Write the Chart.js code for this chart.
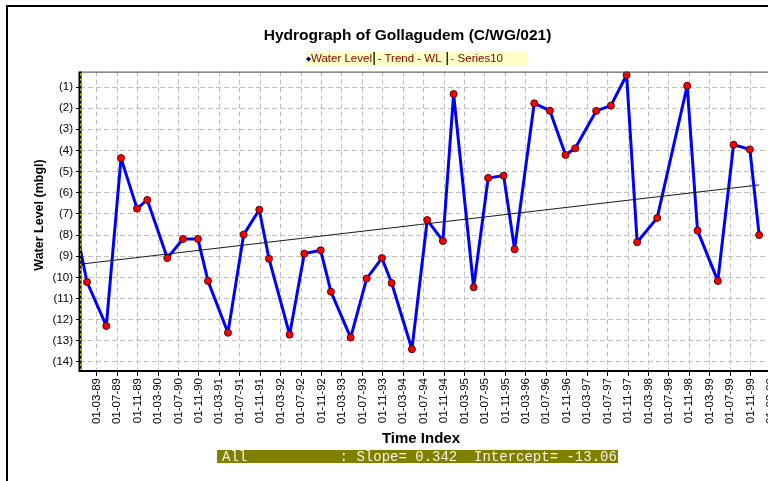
<!DOCTYPE html>
<html>
<head>
<meta charset="utf-8">
<script src="https://cdn.jsdelivr.net/npm/chart.js@4.4.1/dist/chart.umd.min.js"></script>
<style>
  html, body { margin: 0; padding: 0; background: #fff; overflow: hidden; width: 768px; height: 481px; }
  canvas { display: block; }
</style>
</head>
<body>
<canvas id="c" width="836" height="481" style="width:836px;height:481px"></canvas>
<script>
// ---- data (time index in months since Jan 1989; water level in m below ground, negative) ----
const monthIdx = [-1.27, 0.10, 3.88, 6.76, 9.89, 11.90, 15.82, 18.89, 21.82, 23.78, 27.69, 30.77, 33.82, 35.72, 39.77,
  42.63, 45.84, 47.85, 51.71, 54.84, 57.83, 59.73, 63.70, 66.70, 69.77, 71.86, 75.78, 78.63, 81.65, 83.80,
  87.64, 90.71, 93.78, 95.66, 99.77, 102.65, 105.72, 107.79, 111.71, 117.58, 119.61, 123.58, 126.66, 129.85, 131.67];
const waterLevel = [-8.60, -10.22, -12.30, -4.36, -6.75, -6.34, -9.09, -8.19, -8.19, -10.17, -12.62, -7.98, -6.80, -9.12, -12.71,
  -8.88, -8.72, -10.68, -12.85, -10.06, -9.09, -10.27, -13.40, -7.29, -8.28, -1.33, -10.47, -5.30, -5.19, -8.67,
  -1.77, -2.12, -4.21, -3.90, -2.13, -1.88, -0.43, -8.34, -7.19, -0.94, -7.79, -10.17, -3.73, -3.95, -8.00];
const trendX = [-1.27, 131.67];
const trendLevel = [-9.38, -5.63];
const xTickMonths = [2, 6, 10, 14, 18, 22, 26, 30, 34, 38, 42, 46, 50, 54, 58, 62, 66, 70, 74, 78, 82, 86, 90, 94,
  98, 102, 106, 110, 114, 118, 122, 126, 130, 134];
const xTickLabels = ['01-03-89','01-07-89','01-11-89','01-03-90','01-07-90','01-11-90','01-03-91','01-07-91','01-11-91',
  '01-03-92','01-07-92','01-11-92','01-03-93','01-07-93','01-11-93','01-03-94','01-07-94','01-11-94','01-03-95',
  '01-07-95','01-11-95','01-03-96','01-07-96','01-11-96','01-03-97','01-07-97','01-11-97','01-03-98','01-07-98',
  '01-11-98','01-03-99','01-07-99','01-11-99','01-03-00'];
const yTickValues = [-1, -2, -3, -4, -5, -6, -7, -8, -9, -10, -11, -12, -13, -14];
const titleText = 'Hydrograph of Gollagudem (C/WG/021)';
const xTitle = 'Time Index';
const yTitle = 'Water Level (mbgl)';
const legendItems = ['Water Level', '- Trend - WL', 'Series10'];
const statLabel = 'All';
const slope = 0.342;
const intercept = -13.06;

const FONT = '"Liberation Sans", Arial, sans-serif';

const decor = {
  id: 'decor',
  afterDatasetsDraw(chart) {
    const { ctx, chartArea: a } = chart;
    ctx.save();
    // top border of plot
    ctx.strokeStyle = '#404040'; ctx.lineWidth = 1;
    ctx.beginPath(); ctx.moveTo(a.left, a.top + 0.5); ctx.lineTo(a.right, a.top + 0.5); ctx.stroke();
    // x axis line
    ctx.strokeStyle = '#000'; ctx.lineWidth = 2;
    ctx.beginPath(); ctx.moveTo(a.left - 1, a.bottom); ctx.lineTo(a.right, a.bottom); ctx.stroke();
    // y axis line (black with yellow dots)
    ctx.lineWidth = 3;
    ctx.beginPath(); ctx.moveTo(a.left, a.top); ctx.lineTo(a.left, a.bottom + 1); ctx.stroke();
    ctx.strokeStyle = '#d8d800'; ctx.lineWidth = 1; ctx.setLineDash([2, 3]);
    ctx.beginPath(); ctx.moveTo(a.left + 0.5, a.top + 2); ctx.lineTo(a.left + 0.5, a.bottom - 1); ctx.stroke();
    ctx.restore();
  },
  afterDraw(chart) {
    const { ctx } = chart;
    const cx = chart.width / 2;
    ctx.save();
    // outer frame
    ctx.strokeStyle = '#000'; ctx.lineWidth = 2;
    ctx.beginPath(); ctx.moveTo(7, chart.height); ctx.lineTo(7, 6); ctx.lineTo(chart.width, 6); ctx.stroke();

    // legend box
    const lx = cx - 113, ly = 51, lh = 15, lw = 223;
    ctx.fillStyle = '#FFFFC8'; ctx.fillRect(lx, ly, lw, lh);
    ctx.font = '11.5px ' + FONT; ctx.textBaseline = 'middle'; ctx.textAlign = 'left';
    const my = ly + lh / 2 + 0.5;
    // diamond marker
    ctx.fillStyle = '#000060';
    ctx.beginPath(); ctx.moveTo(lx + 3.5, my - 2.5); ctx.lineTo(lx + 6, my); ctx.lineTo(lx + 3.5, my + 2.5); ctx.lineTo(lx + 1, my); ctx.closePath(); ctx.fill();
    ctx.fillStyle = '#800000';
    ctx.fillText(legendItems[0], lx + 6, my);
    const w0 = ctx.measureText(legendItems[0]).width;
    const s1 = lx + 6 + w0 + 1.5;
    ctx.fillStyle = '#303000'; ctx.fillRect(s1, ly + 1, 1.5, lh - 2);
    ctx.fillStyle = '#800000';
    ctx.fillText(legendItems[1], s1 + 4, my);
    const w1 = ctx.measureText(legendItems[1]).width;
    const s2 = s1 + 4 + w1 + 5;
    ctx.fillStyle = '#303000'; ctx.fillRect(s2, ly + 1, 1.5, lh - 2);
    ctx.fillStyle = '#a040c0';
    ctx.fillText('-', s2 + 4, my);
    ctx.fillStyle = '#800000';
    ctx.fillText(' ' + legendItems[2], s2 + 4 + ctx.measureText('-').width, my);

    // axis titles
    ctx.fillStyle = '#000';
    ctx.font = 'bold 15px ' + FONT; ctx.textAlign = 'center'; ctx.textBaseline = 'middle';
    ctx.fillText(xTitle, 421, 439);
    ctx.save();
    ctx.translate(40, 215); ctx.rotate(-Math.PI / 2);
    ctx.font = 'bold 12.5px ' + FONT;
    ctx.fillText(yTitle, 0, 0);
    ctx.restore();

    // statistics bar
    ctx.fillStyle = '#808000'; ctx.fillRect(217, 450, 401, 13);
    ctx.fillStyle = '#f4f4e8';
    ctx.font = '14px "Liberation Mono", "Courier New", monospace';
    ctx.textAlign = 'left'; ctx.textBaseline = 'alphabetic';
    const stat = statLabel.padEnd(14, ' ') + ': Slope= ' + slope.toFixed(3) + '  Intercept= ' + intercept.toFixed(2);
    ctx.fillText(stat, 222, 460.5);
    ctx.restore();
  }
};

new Chart(document.getElementById('c'), {
  type: 'line',
  data: {
    datasets: [
      {
        label: 'Trend - WL',
        data: trendX.map((x, i) => ({ x, y: trendLevel[i] })),
        borderColor: '#1a1a1a',
        borderWidth: 1,
        pointRadius: 0,
        tension: 0,
        order: 0
      },
      {
        label: 'Water Level',
        data: monthIdx.map((x, i) => ({ x, y: waterLevel[i] })),
        borderColor: '#0000FF',
        borderWidth: 3,
        borderJoinStyle: 'round',
        borderCapStyle: 'round',
        pointRadius: ctx => ctx.dataIndex === 0 ? 0 : 3.5,
        pointBackgroundColor: '#FF0000',
        pointBorderColor: '#500000',
        pointBorderWidth: 1,
        tension: 0,
        order: 1
      }
    ]
  },
  plugins: [decor],
  options: {
    responsive: false,
    devicePixelRatio: 1,
    animation: false,
    events: [],
    layout: { padding: { left: 0, right: 21, top: 0, bottom: 0 } },
    plugins: {
      legend: { display: false },
      tooltip: { enabled: false },
      title: {
        display: true,
        text: titleText,
        color: '#000',
        font: { family: FONT, size: 15.5, weight: 'bold' },
        padding: { top: 26.7, bottom: 26.3 }
      }
    },
    scales: {
      x: {
        type: 'linear',
        min: -1.27,
        max: 142.6,
        afterFit: s => { s.height = 110; },
        afterBuildTicks: s => { s.ticks = xTickMonths.map(v => ({ value: v })); },
        grid: {
          color: '#c0c0c0', lineWidth: 1, tickColor: '#000', tickLength: 5, tickBorderDash: [], drawTicks: true
        },
        border: { display: false, dash: [5, 3] },
        ticks: {
          autoSkip: false, maxRotation: 90, minRotation: 90, padding: 2,
          color: '#000', font: { family: FONT, size: 11.5 },
          callback: (v, i) => xTickLabels[i]
        }
      },
      y: {
        type: 'linear',
        min: -14.43,
        max: -0.27,
        afterFit: s => { s.width = 80; },
        afterBuildTicks: s => { s.ticks = yTickValues.map(v => ({ value: v })); },
        grid: {
          color: '#c0c0c0', lineWidth: 1, tickColor: '#000', tickLength: 4, tickBorderDash: [], drawTicks: true
        },
        border: { display: false, dash: [5, 3] },
        ticks: {
          padding: 3, color: '#000', font: { family: FONT, size: 11.5 },
          callback: v => '(' + Math.abs(v) + ')'
        }
      }
    }
  }
});
</script>
</body>
</html>
